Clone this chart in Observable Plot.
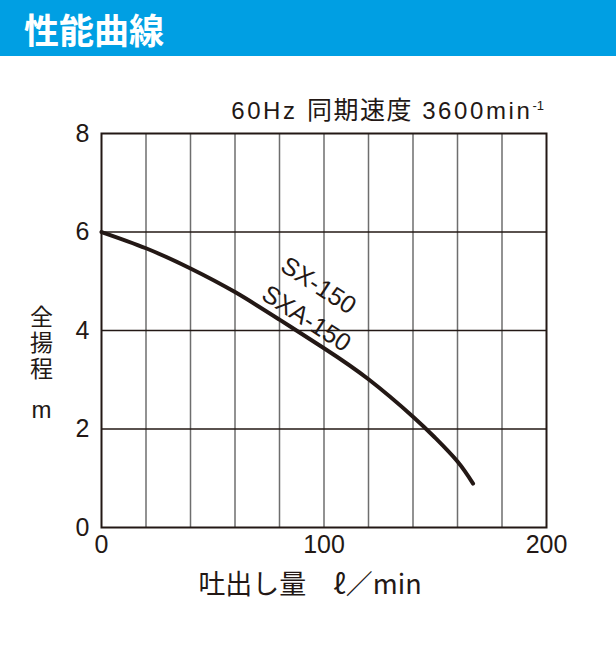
<!DOCTYPE html>
<html>
<head>
<meta charset="utf-8">
<script src="https://cdn.jsdelivr.net/npm/d3@7"></script>
<script src="https://cdn.jsdelivr.net/npm/@observablehq/plot@0.6"></script>
<style>
  html, body { margin: 0; padding: 0; background: #fff; }
  body { width: 616px; height: 649px; position: relative; overflow: hidden;
         font-family: "Liberation Sans", "Noto Sans CJK JP", sans-serif; }
  #title { height: 56px; background: #009fe3; color: #fff;
           font-family: "Noto Sans CJK JP", sans-serif; font-weight: bold;
           font-size: 35px; line-height: 58px; padding-left: 24px; box-sizing: border-box; }
  #sub { position: absolute; right: 72px; top: 90px; font-size: 24px; letter-spacing: 2.6px;
         color: #231815; white-space: nowrap; }
  #sub .cjk { font-size: 25px; letter-spacing: 1.5px; }
  #sub sup { font-size: 13px; letter-spacing: 0; vertical-align: 9px; line-height: 0; }
  #chart { position: absolute; left: 0; top: 56px; }
</style>
</head>
<body>
<div id="title">性能曲線</div>
<div id="chart"></div>
<div id="sub">60Hz <span class="cjk">同期速度</span> 3600min<sup>-1</sup></div>
<script>
// Data
const flow = [0, 20, 40, 60, 80, 100, 120, 140, 150, 160, 167];
const head = [6.0, 5.67, 5.26, 4.78, 4.22, 3.64, 3.01, 2.25, 1.82, 1.34, 0.89];
const xGrid = [0, 20, 40, 60, 80, 100, 120, 140, 160, 180, 200];
const yGrid = [0, 2, 4, 6, 8];
const xTickLabels = [0, 100, 200];
const yTickLabels = [0, 2, 4, 6, 8];
const curveNames = ["SX-150", "SXA-150"];
const nameFlow = [97.5, 92];
const nameHead = [4.91, 4.24];

const pts = flow.map((f, i) => ({flow: f, head: head[i]}));
const names = curveNames.map((n, i) => ({name: n, flow: nameFlow[i], head: nameHead[i]}));

const ink = "#231815";
const chart = Plot.plot({
  width: 616,
  height: 593,
  marginLeft: 101,
  marginRight: 70,
  marginTop: 77,
  marginBottom: 122,
  style: {fontFamily: "'Liberation Sans', 'Noto Sans CJK JP', sans-serif", fontSize: "25px", color: ink, background: "#fff"},
  x: {domain: [0, 200]},
  y: {domain: [0, 8]},
  marks: [
    Plot.ruleX(xGrid.slice(1, -1), {stroke: "#6e6e6e", strokeWidth: 1.5}),
    Plot.ruleY(yGrid.slice(1, -1), {stroke: ink, strokeWidth: 1.5}),
    Plot.frame({stroke: ink, strokeWidth: 2}),
    Plot.axisX(xTickLabels, {tickSize: 0, tickPadding: 8, fontSize: 25, label: null}),
    Plot.axisY(yTickLabels, {tickSize: 0, tickPadding: 12, fontSize: 25, label: null}),
    Plot.line(pts, {x: "flow", y: "head", stroke: ink, strokeWidth: 4, curve: "natural"}),
    Plot.text(names, {x: "flow", y: "head", text: "name", rotate: 33, fontSize: 25, fill: ink}),
    Plot.text(["全揚程"], {frameAnchor: "left", textAnchor: "middle", dx: -60, dy: 6, fontSize: 23, fill: ink,
      className: "ylab", fontFamily: "'Noto Sans CJK JP', sans-serif"}),
    Plot.text(["m"], {frameAnchor: "left", textAnchor: "middle", dx: -60, dy: 80, fontSize: 24, fill: ink}),
    Plot.text(["吐出し量　ℓ／min"], {frameAnchor: "bottom", dx: -14, dy: 66, fontSize: 27, fill: ink,
      fontFamily: "'Noto Sans CJK JP', 'Liberation Sans', sans-serif"})
  ]
});
const ylab = chart.querySelector(".ylab text");
if (ylab) {
  ylab.style.writingMode = "vertical-rl";
  ylab.style.letterSpacing = "3px";
  ylab.removeAttribute("dy");
}
document.getElementById("chart").appendChild(chart);
</script>
</body>
</html>
